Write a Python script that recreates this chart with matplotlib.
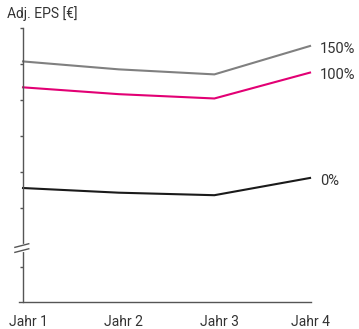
import numpy as np
import matplotlib
matplotlib.use("Agg")
import matplotlib.pyplot as plt
import matplotlib.transforms as mtransforms

plt.rcParams['font.family'] = ['Roboto', 'DejaVu Sans']

# Data (schematic units)
years = ["Jahr 1", "Jahr 2", "Jahr 3", "Jahr 4"]
eps_150 = [6.69, 6.47, 6.33, 7.12]
eps_100 = [5.97, 5.78, 5.66, 6.38]
eps_0 = [3.17, 3.04, 2.97, 3.45]
series_labels = ["150%", "100%", "0%"]

y_ticks = [0.97, 2.62, 3.62, 4.62, 5.62, 6.62, 7.62]

colors = ["#808080", "#e20074", "#1a1a1a"]
axis_color = "#555555"
text_color = "#333333"

fig = plt.figure(figsize=(3.59, 3.29), dpi=100)
ax = fig.add_axes([19 / 359, 27 / 329, 292 / 359, 274 / 329])

x = np.arange(len(years))
ax.set_xlim(-0.042, 3.01)
ax.set_ylim(0, 7.62)

for vals, col, lab in zip([eps_150, eps_100, eps_0], colors, series_labels):
    ax.plot(x, vals, color=col, lw=1.5, solid_joinstyle='miter', clip_on=False)
    ax.annotate(lab, xy=(x[-1], vals[-1]), xytext=(7, -2), textcoords='offset points',
                ha='left', va='center', fontsize=10.5, color=text_color)

# axes styling
for s in ['top', 'right']:
    ax.spines[s].set_visible(False)
ax.spines['left'].set_position(('data', 0))
ax.spines['left'].set_color(axis_color)
ax.spines['bottom'].set_color(axis_color)
ax.spines['left'].set_linewidth(1.0)
ax.spines['bottom'].set_linewidth(1.0)

ax.set_yticks(y_ticks)
ax.set_yticklabels([])
ax.tick_params(axis='y', length=2.5, width=1.0, color=axis_color, direction='out')

ax.set_xticks(x)
ax.set_xticklabels(years, fontsize=10, color=text_color)
ax.tick_params(axis='x', length=0, pad=9)
offset = mtransforms.ScaledTranslation(5 / 100, 0, fig.dpi_scale_trans)
for lbl in ax.get_xticklabels()[:3]:
    lbl.set_transform(lbl.get_transform() + offset)

# axis break marks
ax.plot([0, 0], [1.44, 1.56], color='white', lw=3, clip_on=False, zorder=3)
for yb in [1.57, 1.43]:
    ax.plot([-0.085, 0.06], [yb - 0.05, yb + 0.05], color=axis_color, lw=1.0,
            clip_on=False, zorder=4)

fig.text(7 / 359, 1 - 14 / 329, "Adj. EPS [€]", fontsize=10, color=text_color,
         ha='left', va='center')

fig.savefig("out.png", dpi=100)
